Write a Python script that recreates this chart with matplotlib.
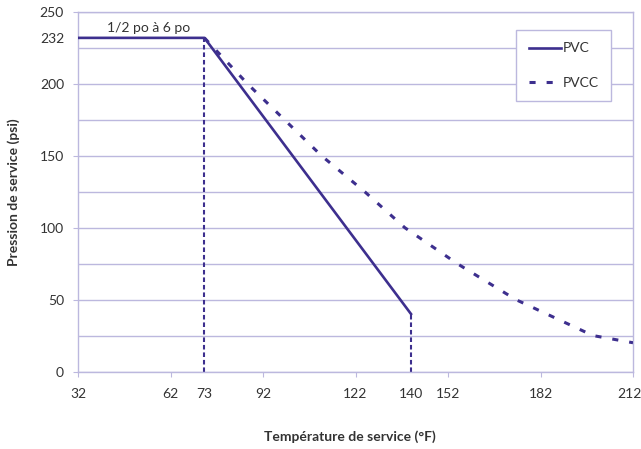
import numpy as np
import matplotlib.pyplot as plt

plt.rcParams['font.family'] = ['Lato', 'DejaVu Sans']

# data
pvc_x = [32, 73, 140]
pvc_y = [232, 232, 40]
pvcc_x = [73, 87, 99, 111, 125, 138, 155, 174, 199, 212]
pvcc_y = [232, 200, 175, 150, 125, 100, 75, 50, 25, 20]
xticks_major = [32, 62, 92, 122, 152, 182, 212]
xticks_extra = [73, 140]
yticks_major = [0, 50, 100, 150, 200, 250]
ytick_extra = [232]
grid_y = np.arange(0, 251, 25)

purple = '#3d2f8e'
lav = '#bcb8de'
txt = '#333333'

fig = plt.figure(figsize=(6.41, 4.49), dpi=100)
ax = fig.add_axes([78 / 641, 0.1726, (633 - 78) / 641, 0.8007])

for g in grid_y:
    ax.axhline(g, color=lav, lw=1.0, zorder=1)

ax.plot(pvc_x, pvc_y, color=purple, lw=1.9, zorder=3, label='PVC')
ax.plot(pvcc_x, pvcc_y, color=purple, lw=2.2, dashes=(2, 3.6), zorder=3, label='PVCC')

# vertical drop lines
ax.plot([pvc_x[1], pvc_x[1]], [0, pvc_y[1]], color=purple, lw=1.5, dashes=(2.2, 1.4), zorder=2)
ax.plot([pvc_x[2], pvc_x[2]], [0, pvc_y[2]], color=purple, lw=1.5, dashes=(2.2, 1.4), zorder=2)

ax.text(41.5, 235, '1/2 po à 6 po', fontsize=10, color=txt, va='bottom', ha='left')

ax.set_xlim(32, 212)
ax.set_ylim(0, 250)
ax.set_xticks(xticks_major)
ax.set_xticks(xticks_extra, minor=True)
# last label sits on the figure edge, drawn separately a bit to the left
ax.set_xticklabels([str(v) for v in xticks_major[:-1]] + [''])
ax.annotate(str(xticks_major[-1]), xy=(xticks_major[-1], 0), xytext=(-2.5, -11.6),
            textcoords='offset points', ha='center', va='top', fontsize=10, color=txt,
            annotation_clip=False)
ax.set_xticklabels([str(v) for v in xticks_extra], minor=True)
ax.set_yticks(yticks_major)
ax.set_yticks(ytick_extra, minor=True)
ax.set_yticklabels([str(v) for v in ytick_extra], minor=True)

ax.tick_params(which='major', axis='x', length=3.6, color=lav, pad=8, labelsize=10, labelcolor=txt)
ax.tick_params(which='minor', axis='x', length=0, pad=11.6, labelsize=10, labelcolor=txt)
ax.tick_params(which='major', axis='y', length=3.6, color=lav, pad=6.5, labelsize=10, labelcolor=txt)
ax.tick_params(which='minor', axis='y', length=0, pad=10, labelsize=10, labelcolor=txt)

for s in ax.spines.values():
    s.set_color(lav)
    s.set_linewidth(1.0)

ax.set_xlabel('Température de service (°F)', fontsize=10, fontweight='bold', color=txt)
ax.xaxis.set_label_coords(0.49, -0.163)
ax.set_ylabel('Pression de service (psi)', fontsize=10, fontweight='bold', color=txt)
ax.yaxis.set_label_coords(-0.105, 0.5)

leg = ax.legend(loc='upper left', bbox_to_anchor=(0.79, 0.95), frameon=True, fancybox=False,
                edgecolor=lav, framealpha=1, fontsize=10, labelspacing=1.6,
                handlelength=2.3, handletextpad=0.1, borderpad=0.9, borderaxespad=0)
leg.get_frame().set_linewidth(1.0)
for t in leg.get_texts():
    t.set_color(txt)

fig.savefig('out.png', dpi=100)
